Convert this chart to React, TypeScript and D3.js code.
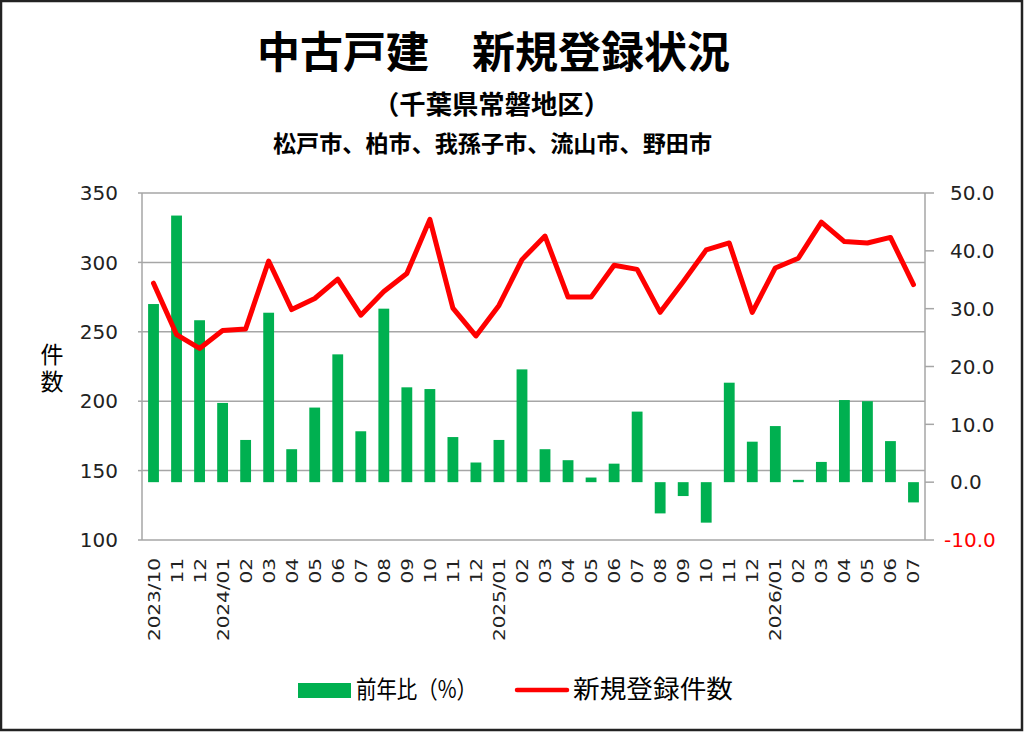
import React from 'react';
import * as d3 from 'd3';

// Months shown on the x axis
const months = [
  '2023/10', '11', '12',
  '2024/01', '02', '03', '04', '05', '06', '07', '08', '09', '10', '11', '12',
  '2025/01', '02', '03', '04', '05', '06', '07', '08', '09', '10', '11', '12',
  '2026/01', '02', '03', '04', '05', '06', '07',
];

// 新規登録件数 (left axis)
const newListings = [
  285, 248, 238, 251, 252, 301, 266, 274, 288, 262, 279, 292,
  331, 267, 247, 269, 302, 319, 275, 275, 298, 295, 264, 286,
  309, 314, 264, 296, 303, 329, 315, 314, 318, 284,
];

// 前年比(%) (right axis)
const yoyChange = [
  30.8, 46.1, 28.0, 13.7, 7.3, 29.3, 5.7, 12.9, 22.1, 8.8, 30.0, 16.4,
  16.1, 7.8, 3.4, 7.3, 19.5, 5.7, 3.8, 0.8, 3.2, 12.2, -5.4, -2.4,
  -7.0, 17.2, 7.0, 9.7, 0.4, 3.5, 14.2, 14.0, 7.1, -3.5,
];

const leftTicks = [100, 150, 200, 250, 300, 350];
const rightTicks = [-10, 0, 10, 20, 30, 40, 50];

const W = 1024;
const H = 732;
const plot = { left: 142, right: 925, top: 193, bottom: 540 };

const jp = '"Noto Sans CJK JP", "Noto Sans", sans-serif';
const num = '"DejaVu Sans", "Open Sans", sans-serif';
const GRID = '#a6a6a6';
const GREEN = '#00b050';
const RED = '#ff0000';

const App: React.FC = () => {
  const x = d3.scaleBand<string>()
    .domain(months.map((m, i) => `${i}`))
    .range([plot.left, plot.right])
    .padding(0);

  const yLeft = d3.scaleLinear().domain([100, 350]).range([plot.bottom, plot.top]);
  const yRight = d3.scaleLinear().domain([-10, 50]).range([plot.bottom, plot.top]);

  const cx = (i: number) => (x(`${i}`) ?? 0) + x.bandwidth() / 2;
  const barW = x.bandwidth() * 0.47;

  const line = d3.line<number>()
    .x((d, i) => cx(i))
    .y(d => yLeft(d));

  // excel style: plain hyphen for negatives
  const fmtRight = (t: number) => d3.format('.1f')(t).replace('−', '-');

  return (
    <svg width={W} height={H} style={{ position: 'absolute', left: 0, top: 0, background: '#fff' }}>
      <rect x={1} y={1} width={W - 3} height={H - 3} fill="#fff" stroke="#222" strokeWidth={2.5} />

      {/* titles */}
      <text x={257} y={68} textLength={473} lengthAdjust="spacingAndGlyphs"
        fontFamily={jp} fontWeight={700} fontSize={43} fill="#000">
        中古戸建　新規登録状況
      </text>
      <text x={373} y={114} textLength={237} lengthAdjust="spacingAndGlyphs"
        fontFamily={jp} fontWeight={700} fontSize={26} fill="#000">
        （千葉県常磐地区）
      </text>
      <text x={273} y={152} textLength={439} lengthAdjust="spacingAndGlyphs"
        fontFamily={jp} fontWeight={700} fontSize={23} fill="#000">
        松戸市、柏市、我孫子市、流山市、野田市
      </text>

      {/* gridlines */}
      {leftTicks.filter(t => t > 100).map(t => (
        <line key={t} x1={plot.left} x2={plot.right} y1={yLeft(t)} y2={yLeft(t)} stroke={GRID} strokeWidth={1.5} />
      ))}

      {/* bars */}
      {yoyChange.map((v, i) => (
        <rect
          key={i}
          x={cx(i) - barW / 2}
          y={yRight(Math.max(v, 0))}
          width={barW}
          height={Math.abs(yRight(v) - yRight(0))}
          fill={GREEN}
        />
      ))}

      {/* line */}
      <path d={line(newListings) ?? ''} fill="none" stroke={RED} strokeWidth={5} strokeLinejoin="round" strokeLinecap="round" />

      {/* axes */}
      <line x1={plot.left} x2={plot.left} y1={plot.top} y2={plot.bottom} stroke={GRID} strokeWidth={1.5} />
      <line x1={plot.left} x2={plot.right} y1={plot.bottom} y2={plot.bottom} stroke={GRID} strokeWidth={1.5} />
      <line x1={plot.right} x2={plot.right} y1={plot.top} y2={plot.bottom} stroke={GRID} strokeWidth={1.5} />

      {leftTicks.map(t => (
        <g key={t}>
          <line x1={plot.left - 4} x2={plot.left} y1={yLeft(t)} y2={yLeft(t)} stroke={GRID} strokeWidth={1.5} />
          <text x={118} y={yLeft(t)} dy="0.36em" textAnchor="end" fontFamily={num} fontSize={20} fill="#222">
            {t}
          </text>
        </g>
      ))}

      {rightTicks.map(t => (
        <g key={t}>
          <line x1={plot.right} x2={plot.right + 9} y1={yRight(t)} y2={yRight(t)} stroke={GRID} strokeWidth={1.5} />
          <text x={t < 0 ? 944 : 950} y={yRight(t)} dy="0.36em" textAnchor="start" fontFamily={num} fontSize={20}
            fill={t < 0 ? RED : '#222'}>
            {fmtRight(t)}
          </text>
        </g>
      ))}

      {/* y axis title, vertical */}
      <text x={52} y={343} style={{ writingMode: 'vertical-rl' }} letterSpacing={4}
        fontFamily={jp} fontSize={23} fill="#000">
        件数
      </text>

      {/* x labels */}
      {months.map((m, i) => (
        <text
          key={i}
          transform={`translate(${cx(i) + 6},558) rotate(-90) scale(1.25,1)`}
          textAnchor="end"
          fontFamily={num}
          fontSize={16}
          fill="#222"
        >
          {m}
        </text>
      ))}

      {/* legend */}
      <rect x={298} y={683} width={53} height={15} fill={GREEN} />
      <text x={356} y={698} textLength={121} lengthAdjust="spacingAndGlyphs" fontFamily={jp} fontSize={24} fill="#000">
        前年比（%）
      </text>
      <line x1={517} x2={567} y1={690} y2={690} stroke={RED} strokeWidth={4.5} strokeLinecap="round" />
      <text x={573} y={698} textLength={160} lengthAdjust="spacingAndGlyphs" fontFamily={jp} fontSize={25} fill="#000">
        新規登録件数
      </text>
    </svg>
  );
};

export default App;
